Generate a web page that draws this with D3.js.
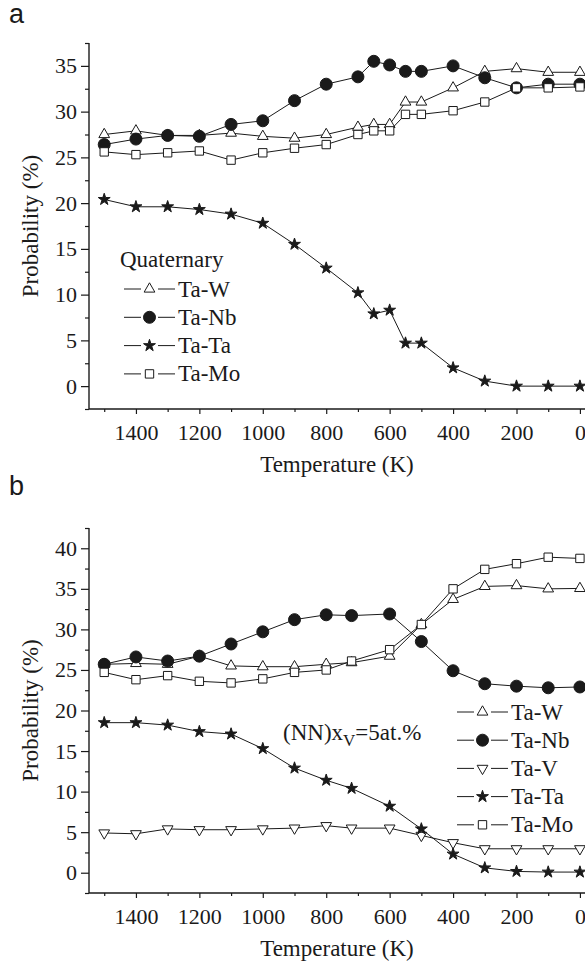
<!DOCTYPE html>
<html>
<head>
<meta charset="utf-8">
<script src="https://cdn.jsdelivr.net/npm/d3@7/dist/d3.min.js"></script>
<style>
  body { margin: 0; background: #fff; }
  svg { display: block; }
</style>
</head>
<body>
<div id="chart"></div>
<script>
// ---- data, panel a (quaternary) ----
var tempA = [1500, 1400, 1300, 1200, 1100, 1000, 900, 800, 700, 650, 600, 550, 500, 400, 300, 200, 100, 0];
var aTaW  = [27.5, 27.9, 27.4, 27.4, 27.65, 27.3, 27.1, 27.5, 28.3, 28.6, 28.6, 31.05, 31.05, 32.6, 34.4, 34.7, 34.3, 34.3];
var aTaNb = [26.4, 27.0, 27.4, 27.3, 28.6, 29.0, 31.2, 33.0, 33.8, 35.5, 35.1, 34.4, 34.4, 35.0, 33.7, 32.6, 33.0, 33.0];
var aTaTa = [20.4, 19.6, 19.6, 19.3, 18.8, 17.8, 15.5, 12.9, 10.2, 7.9, 8.3, 4.7, 4.7, 2.0, 0.55, 0.0, 0.0, 0.0];
var aTaMo = [25.6, 25.3, 25.5, 25.7, 24.7, 25.5, 26.0, 26.4, 27.5, 27.9, 27.9, 29.7, 29.7, 30.1, 31.05, 32.6, 32.6, 32.7];

// ---- data, panel b (NN, xV = 5 at.%) ----
var tempB = [1500, 1400, 1300, 1200, 1100, 1000, 900, 800, 720, 600, 500, 400, 300, 200, 100, 0];
var bTaW  = [25.7, 25.8, 25.7, 26.7, 25.5, 25.4, 25.4, 25.7, 25.9, 26.7, 30.6, 33.7, 35.3, 35.4, 35.0, 35.05];
var bTaNb = [25.7, 26.6, 26.1, 26.7, 28.2, 29.7, 31.2, 31.8, 31.7, 31.9, 28.5, 24.9, 23.3, 23.0, 22.8, 22.9];
var bTaV  = [4.9, 4.8, 5.4, 5.3, 5.3, 5.4, 5.5, 5.8, 5.5, 5.5, 4.6, 3.7, 2.95, 2.95, 2.95, 2.95];
var bTaTa = [18.5, 18.5, 18.2, 17.4, 17.1, 15.3, 12.9, 11.4, 10.4, 8.2, 5.4, 2.3, 0.6, 0.16, 0.08, 0.08];
var bTaMo = [24.7, 23.8, 24.3, 23.6, 23.4, 23.9, 24.7, 25.0, 26.1, 27.5, 30.6, 35.0, 37.4, 38.1, 38.9, 38.75];

var xTicks = [1400, 1200, 1000, 800, 600, 400, 200, 0];

var W = 585, H = 965;
var ink = "#1a1a1a";
var serif = "'Liberation Serif', 'Times New Roman', Times, serif";
var sans = "'Liberation Sans', Arial, Helvetica, sans-serif";

var svg = d3.select("#chart").append("svg")
  .attr("width", W)
  .attr("height", H)
  .attr("font-family", serif);

// marker shapes
function markerPath(kind) {
  if (kind == "up" || kind == "down") return d3.symbol().type(d3.symbolTriangle).size(50)();
  if (kind == "circle") return d3.symbol().type(d3.symbolCircle).size(Math.PI * 36)();
  if (kind == "star") return d3.symbol().type(d3.symbolStar).size(44)();
  if (kind == "square") return d3.symbol().type(d3.symbolSquare).size(70)();
}
function markerFill(kind) {
  return (kind == "circle" || kind == "star") ? ink : "#fff";
}
function drawMarker(g, kind, x, y) {
  g.append("path")
    .attr("d", markerPath(kind))
    .attr("transform", "translate(" + x + "," + y + ")" + (kind == "down" ? " rotate(180)" : ""))
    .attr("fill", markerFill(kind))
    .attr("stroke", ink)
    .attr("stroke-width", 1);
}
function addText(g, size) {
  return g.append("text")
    .attr("font-family", serif)
    .attr("font-size", size)
    .attr("fill", ink);
}

function drawPanel(opt) {
  var x = d3.scaleLinear().domain([1548, -16]).range([89, 585]);
  var y = d3.scaleLinear().domain(opt.yDomain).range([opt.bottom, opt.top]);
  var g = svg.append("g");

  // y axis: major every 5 (labelled), minor every 2.5
  var majors = d3.range(0, opt.yDomain[1], 5);
  var minors = d3.range(opt.yDomain[0], opt.yDomain[1] + 0.01, 5);
  var yMinor = g.append("g")
    .attr("transform", "translate(89,0)")
    .call(d3.axisLeft(y).tickValues(minors).tickSize(4).tickFormat(""));
  var yAxis = g.append("g")
    .attr("transform", "translate(89,0)")
    .call(d3.axisLeft(y).tickValues(majors).tickSize(8).tickPadding(4).tickFormat(d3.format("d")));

  // x axis: major every 200 (labelled), minor every 100
  var xMinor = g.append("g")
    .attr("transform", "translate(0," + opt.bottom + ")")
    .call(d3.axisBottom(x).tickValues(d3.range(1500, 0, -200)).tickSize(3).tickFormat(""));
  var xAxis = g.append("g")
    .attr("transform", "translate(0," + opt.bottom + ")")
    .call(d3.axisBottom(x).tickValues(xTicks).tickSize(5).tickPadding(6).tickFormat(d3.format("d")));

  [yMinor, yAxis, xMinor, xAxis].forEach(function (a) {
    a.attr("font-family", serif).attr("font-size", 22);
    a.select(".domain").attr("stroke", ink).attr("stroke-width", 1.4);
    a.selectAll(".tick line").attr("stroke", ink).attr("stroke-width", 1.2);
    a.selectAll("text").attr("fill", ink);
  });
  yMinor.select(".domain").remove();
  xMinor.select(".domain").remove();
  // keep the axis lines plain (no end caps)
  yAxis.select(".domain").attr("d", "M0," + opt.bottom + "V" + opt.top);
  xAxis.select(".domain").attr("d", "M89,0H585");
  xAxis.selectAll("text").attr("dy", "0.9em");

  // axis titles
  addText(g, 23)
    .attr("transform", "translate(30," + ((opt.top + opt.bottom) / 2) + ") rotate(-90)")
    .attr("text-anchor", "middle")
    .attr("dominant-baseline", "central")
    .text("Probability (%)");
  addText(g, 23)
    .attr("x", 337)
    .attr("y", opt.bottom + 63)
    .attr("text-anchor", "middle")
    .text("Temperature (K)");

  // panel letter
  g.append("text")
    .attr("x", 9)
    .attr("y", opt.letterY)
    .attr("font-family", sans)
    .attr("font-size", 27)
    .attr("fill", ink)
    .text(opt.letter);

  // series
  var line = d3.line()
    .x(function (d) { return x(d.t); })
    .y(function (d) { return y(d.v); });

  opt.series.forEach(function (s) {
    var pts = opt.temps.map(function (t, i) { return { t: t, v: s.values[i] }; });
    var sg = g.append("g");
    sg.append("path")
      .datum(pts)
      .attr("d", line)
      .attr("fill", "none")
      .attr("stroke", ink)
      .attr("stroke-width", 1);
    pts.forEach(function (p) {
      drawMarker(sg, s.kind, x(p.t), y(p.v));
    });
  });

  // legend
  var lg = g.append("g");
  if (opt.legendTitle) {
    addText(lg, 23)
      .attr("x", opt.legendX - 4)
      .attr("y", opt.legendY - opt.legendStep - 1)
      .attr("dominant-baseline", "central")
      .text(opt.legendTitle);
  }
  opt.series.forEach(function (s, i) {
    var ly = opt.legendY + i * opt.legendStep;
    var lx = opt.legendX;
    lg.append("line").attr("x1", lx).attr("x2", lx + 17).attr("y1", ly).attr("y2", ly)
      .attr("stroke", ink).attr("stroke-width", 1);
    lg.append("line").attr("x1", lx + 34).attr("x2", lx + 51).attr("y1", ly).attr("y2", ly)
      .attr("stroke", ink).attr("stroke-width", 1);
    drawMarker(lg, s.kind, lx + 25.5, ly);
    addText(lg, 23)
      .attr("x", lx + 54)
      .attr("y", ly)
      .attr("dominant-baseline", "central")
      .text(s.name);
  });

  return { g: g, x: x, y: y };
}

// panel a
drawPanel({
  letter: "a", letterY: 23,
  top: 43, bottom: 409, yDomain: [-2.5, 37.5],
  temps: tempA,
  series: [
    { name: "Ta-W", kind: "up", values: aTaW },
    { name: "Ta-Nb", kind: "circle", values: aTaNb },
    { name: "Ta-Ta", kind: "star", values: aTaTa },
    { name: "Ta-Mo", kind: "square", values: aTaMo }
  ],
  legendTitle: "Quaternary",
  legendX: 124, legendY: 289, legendStep: 28.3
});

// panel b
var pb = drawPanel({
  letter: "b", letterY: 495,
  top: 528, bottom: 893, yDomain: [-2.5, 42.5],
  temps: tempB,
  series: [
    { name: "Ta-W", kind: "up", values: bTaW },
    { name: "Ta-Nb", kind: "circle", values: bTaNb },
    { name: "Ta-V", kind: "down", values: bTaV },
    { name: "Ta-Ta", kind: "star", values: bTaTa },
    { name: "Ta-Mo", kind: "square", values: bTaMo }
  ],
  legendTitle: null,
  legendX: 457, legendY: 712, legendStep: 28.2
});

// annotation (NN)xV=5at.%
var note = addText(pb.g, 23)
  .attr("x", 283)
  .attr("y", 740);
note.append("tspan").text("(NN)x");
note.append("tspan").attr("dy", 6).attr("font-size", 17).text("V");
note.append("tspan").attr("dy", -6).text("=5at.%");
</script>
</body>
</html>
